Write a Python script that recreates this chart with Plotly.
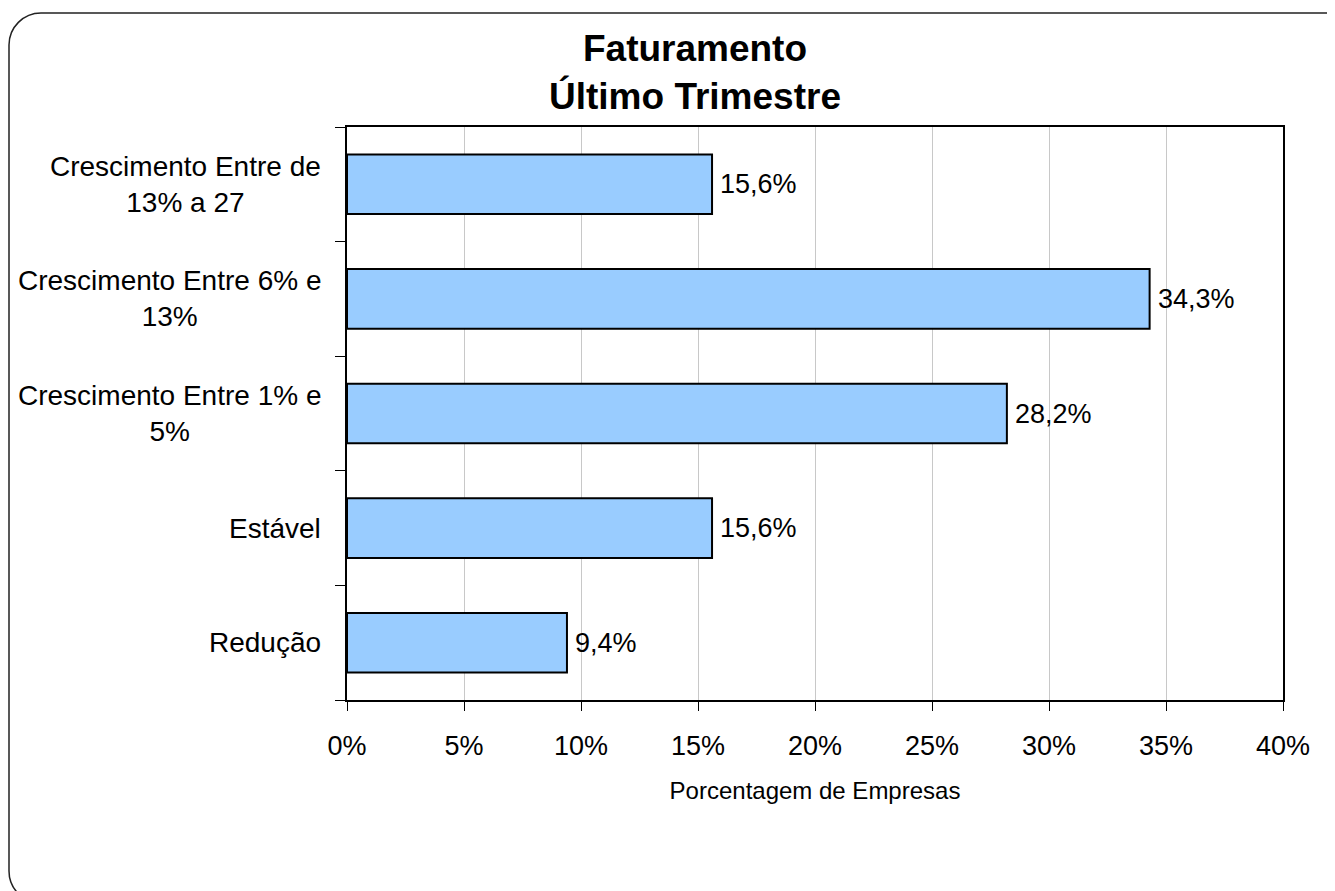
import plotly.graph_objects as go

categories = ["Redução", "Estável", "Crescimento Entre 1% e<br>5%",
              "Crescimento Entre 6% e<br>13%", "Crescimento Entre de<br>13% a 27"]
values = [9.4, 15.6, 28.2, 34.3, 15.6]
x_ticks = [0, 5, 10, 15, 20, 25, 30, 35, 40]
x_tick_labels = [f"{t}%" for t in x_ticks]
value_labels = [f"{v:.1f}%".replace(".", ",") for v in values]

OFF = 8  # page body margin
W, H = 1335 - OFF, 891 - OFF
L, R, T, B = 347 - OFF, 1283 - OFF, 127 - OFF, 700 - OFF
FONT = "Liberation Sans, Arial, sans-serif"

def px(xp):
    return (xp - OFF - L) / (R - L)

def py(yp):
    return (B - (yp - OFF)) / (B - T)

fig = go.Figure()
fig.add_trace(go.Bar(
    x=values, y=categories, orientation="h",
    marker=dict(color="#99CCFF", line=dict(color="black", width=2)),
    hoverinfo="skip",
))

for cat, v, lab in zip(categories, values, value_labels):
    fig.add_annotation(x=v, y=cat, xref="x", yref="y", text=lab, showarrow=False,
                       xanchor="left", yanchor="middle", xshift=6,
                       font=dict(family=FONT, size=27, color="black"))
    fig.add_annotation(x=0, y=cat, xref="paper", yref="y", text=cat, showarrow=False,
                       xanchor="right", yanchor="middle", xshift=-24, align="center",
                       font=dict(family=FONT, size=28, color="black"))

# title
fig.add_annotation(x=px(695), y=py(26), xref="paper", yref="paper",
                   text="<b>Faturamento<br>Último Trimestre</b>", showarrow=False,
                   xanchor="center", yanchor="top", align="center",
                   font=dict(family=FONT, size=37, color="black"))

# rounded outer frame
x0, y0, r = 9, 13, 32
xb, yb = 1400, 903
k = 0.5523 * r
path = (f"M {px(xb)},{py(y0)} L {px(x0 + r)},{py(y0)} "
        f"C {px(x0 + r - k)},{py(y0)} {px(x0)},{py(y0 + r - k)} {px(x0)},{py(y0 + r)} "
        f"L {px(x0)},{py(yb - r)} "
        f"C {px(x0)},{py(yb - r + k)} {px(x0 + r - k)},{py(yb)} {px(x0 + r)},{py(yb)} "
        f"L {px(xb)},{py(yb)}")
fig.add_shape(type="path", path=path, xref="paper", yref="paper",
              line=dict(color="#222222", width=1.5), layer="below")

fig.update_layout(
    width=W, height=H,
    margin=dict(l=L, r=W - R, t=T, b=H - B, pad=0),
    paper_bgcolor="white", plot_bgcolor="white",
    showlegend=False, bargap=0.48,
    font=dict(family=FONT, size=27, color="black"),
)
fig.update_xaxes(
    range=[0, 40], tickvals=x_ticks, ticktext=x_tick_labels,
    showgrid=True, gridcolor="#c8c8c8", gridwidth=1,
    showline=True, linecolor="black", linewidth=2, mirror=True,
    ticks="outside", ticklen=9, tickcolor="black", tickwidth=1,
    ticklabelstandoff=12,
    tickfont=dict(family=FONT, size=27, color="black"),
    title=dict(text="Porcentagem de Empresas", standoff=22,
               font=dict(family=FONT, size=24, color="black")),
    zeroline=False, fixedrange=True,
)
fig.update_yaxes(
    type="category", showticklabels=False, showgrid=False,
    showline=True, linecolor="black", linewidth=2, mirror=True,
    ticks="outside", tickson="boundaries", ticklen=10, tickcolor="black", tickwidth=1,
    fixedrange=True,
)

fig.write_html("out.html")
